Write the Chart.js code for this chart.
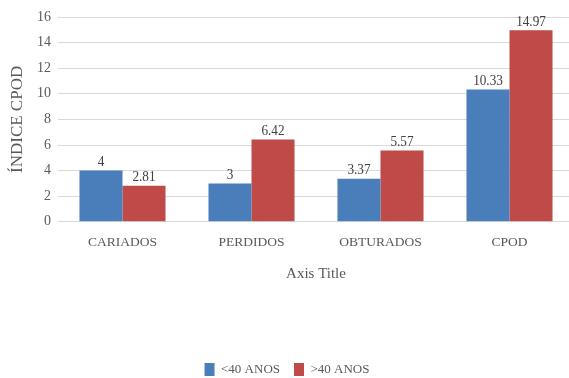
<!DOCTYPE html>
<html><head><meta charset="utf-8">
<script src="https://cdn.jsdelivr.net/npm/chart.js@4/dist/chart.umd.min.js"></script>
<style>html,body{margin:0;padding:0;background:#fff;overflow:hidden}#wrap{width:574px;height:378px;position:relative}</style>
</head><body><div id="wrap"><canvas id="c"></canvas></div>
<script>
const categories = ["CARIADOS", "PERDIDOS", "OBTURADOS", "CPOD"];
const under40 = [4, 3, 3.37, 10.33];
const over40 = [2.81, 6.42, 5.57, 14.97];
const seriesNames = ["<40 ANOS", ">40 ANOS"];
const yTicks = [0, 2, 4, 6, 8, 10, 12, 14, 16];
const FONT = "'Liberation Serif', serif";
const labelPlugin = {
  id: 'vals',
  afterDatasetsDraw(chart) {
    const ctx = chart.ctx;
    chart.data.datasets.forEach((ds, i) => {
      chart.getDatasetMeta(i).data.forEach((bar, j) => {
        ctx.save();
        ctx.font = "15px " + FONT;
        ctx.fillStyle = '#404040';
        ctx.textAlign = 'center';
        ctx.textBaseline = 'bottom';
        ctx.translate(bar.x, bar.y - 1);
        ctx.scale(0.88, 1);
        ctx.fillText(String(ds.data[j]), 0, 0);
        ctx.restore();
      });
    });
  }
};
new Chart(document.getElementById('c'), {
  type: 'bar',
  data: {
    labels: categories,
    datasets: [
      {label: seriesNames[0], data: under40, backgroundColor: '#4a7ebb', categoryPercentage: 0.667, barPercentage: 1},
      {label: seriesNames[1], data: over40, backgroundColor: '#be4b48', categoryPercentage: 0.667, barPercentage: 1}
    ]
  },
  options: {
    responsive: true, maintainAspectRatio: false, animation: false,
    layout: {padding: {top: 17, left: 0, right: 0, bottom: -8}},
    plugins: {
      legend: {position: 'bottom', labels: {boxWidth: 10, boxHeight: 13, padding: 14, color: '#595959', font: {family: FONT, size: 13}}},
      tooltip: {enabled: false}
    },
    scales: {
      x: {
        grid: {display: false, drawTicks: false},
        border: {color: '#d9d9d9'},
        ticks: {color: '#595959', font: {family: FONT, size: 13.5}, padding: 13},
        title: {display: true, text: 'Axis Title', color: '#595959', font: {family: FONT, size: 15}, padding: {top: 1, bottom: 66}}
      },
      y: {
        min: 0, max: 16,
        afterBuildTicks: (s) => { s.ticks = yTicks.map(v => ({value: v})); },
        afterFit: (s) => { s.width = 58; },
        grid: {color: '#d9d9d9', drawTicks: false},
        border: {display: false},
        ticks: {color: '#595959', font: {family: FONT, size: 14}, padding: 7},
        title: {display: true, text: 'ÍNDICE CPOD', color: '#595959', font: {family: FONT, size: 17}, padding: {top: 7, bottom: 0}}
      }
    }
  },
  plugins: [labelPlugin]
});
</script></body></html>
